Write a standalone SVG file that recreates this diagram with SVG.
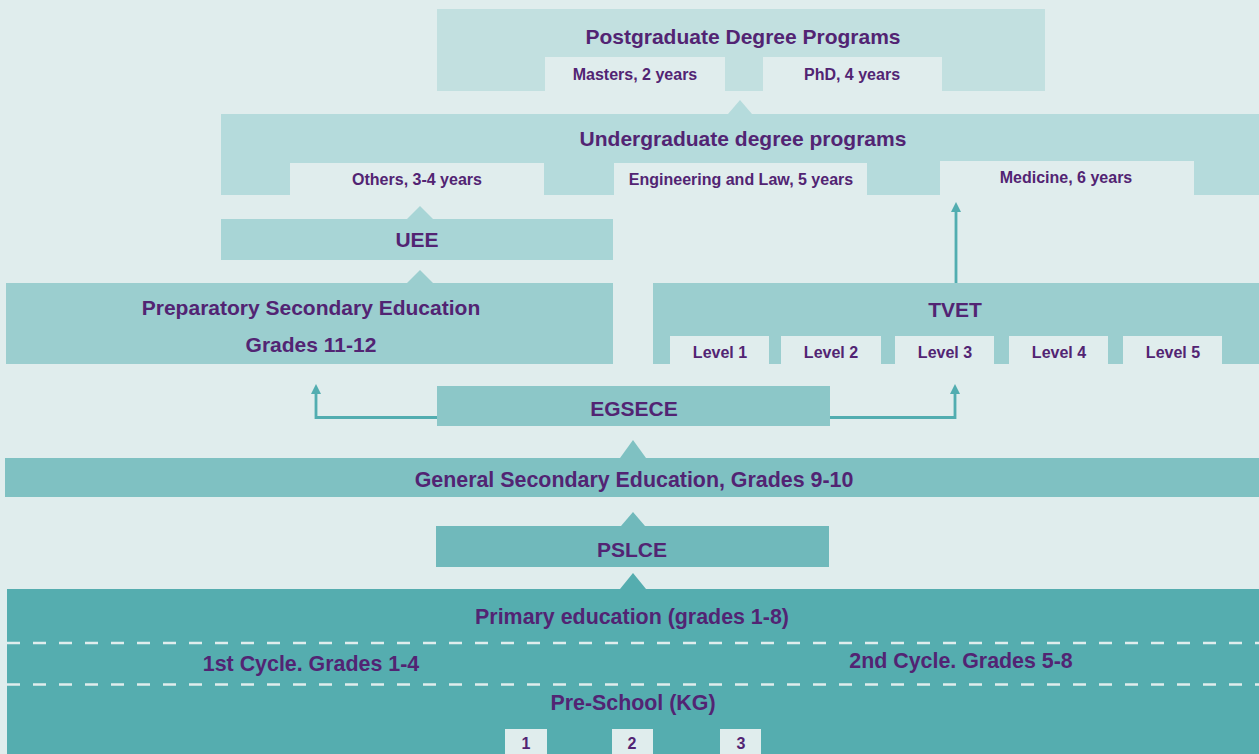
<svg xmlns="http://www.w3.org/2000/svg" width="1259" height="754" viewBox="0 0 1259 754">
<style>
text{font-family:"Liberation Sans",Arial,sans-serif;font-weight:bold;fill:#522473;text-anchor:middle}
.t20{font-size:21px}
.t19{font-size:21.4px}
.t14{font-size:16px}
.sub{fill:#e0eded}
.conn{fill:none;stroke:#52adb0;stroke-width:2.8}
.dash{stroke:#e0eded;stroke-width:2.5;stroke-dasharray:13 13}
</style>
<defs>
<marker id="ah" viewBox="0 0 10 10" refX="5" refY="5" markerWidth="3.6" markerHeight="3.6" orient="auto">
<path d="M0,0 L10,5 L0,10 z" fill="#52adb0"/>
</marker>
</defs>
<rect width="1259" height="754" fill="#e0eded"/>

<g id="postgraduate">
<rect x="437" y="9" width="608" height="82" fill="#c2e0e0"/>
<text class="t20" x="743" y="44">Postgraduate Degree Programs</text>
<rect class="sub" x="545" y="57" width="180" height="34"/>
<text class="t14" x="635" y="80">Masters, 2 years</text>
<rect class="sub" x="763" y="57" width="179" height="34"/>
<text class="t14" x="852" y="80">PhD, 4 years</text>
</g>

<g id="undergraduate">
<polygon points="728,114 740,100 752,114" fill="#b5dbdc"/>
<rect x="221" y="114" width="1038" height="81" fill="#b5dbdc"/>
<text class="t20" x="743" y="146">Undergraduate degree programs</text>
<rect class="sub" x="290" y="163" width="254" height="32"/>
<text class="t14" x="417" y="185">Others, 3-4 years</text>
<rect class="sub" x="614" y="163" width="253" height="32"/>
<text class="t14" x="741" y="185">Engineering and Law, 5 years</text>
<rect class="sub" x="940" y="161" width="254" height="34"/>
<text class="t14" x="1066" y="183">Medicine, 6 years</text>
</g>

<g id="uee">
<polygon points="407,219 420,206 433,219" fill="#a8d5d6"/>
<rect x="221" y="219" width="392" height="41" fill="#a8d5d6"/>
<text class="t20" x="417" y="247">UEE</text>
</g>

<g id="preparatory">
<polygon points="407,283 420,270 433,283" fill="#9bcecf"/>
<rect x="6" y="283" width="607" height="81" fill="#9bcecf"/>
<text class="t20" x="311" y="315">Preparatory Secondary Education</text>
<text class="t20" x="311" y="352">Grades 11-12</text>
</g>

<g id="tvet">
<rect x="653" y="283" width="606" height="81" fill="#9bcecf"/>
<text class="t20" x="955" y="317">TVET</text>
<rect class="sub" x="670" y="336" width="99" height="28"/>
<text class="t14" x="720" y="358">Level 1</text>
<rect class="sub" x="781" y="336" width="100" height="28"/>
<text class="t14" x="831" y="358">Level 2</text>
<rect class="sub" x="895" y="336" width="99" height="28"/>
<text class="t14" x="945" y="358">Level 3</text>
<rect class="sub" x="1009" y="336" width="99" height="28"/>
<text class="t14" x="1059" y="358">Level 4</text>
<rect class="sub" x="1123" y="336" width="99" height="28"/>
<text class="t14" x="1173" y="358">Level 5</text>
</g>

<g id="egsece">
<rect x="437" y="386" width="393" height="40" fill="#8cc7c8"/>
<text class="t20" x="634" y="416">EGSECE</text>
</g>

<g id="general-secondary">
<polygon points="620,458 633,440 646,458" fill="#7fc1c2"/>
<rect x="5" y="458" width="1254" height="39" fill="#7fc1c2"/>
<text class="t19" x="634" y="487">General Secondary Education, Grades 9-10</text>
</g>

<g id="pslce">
<polygon points="621,526 633,512 645,526" fill="#70b9bb"/>
<rect x="436" y="526" width="393" height="41" fill="#70b9bb"/>
<text class="t20" x="632" y="557">PSLCE</text>
</g>

<g id="primary">
<polygon points="620,589 633,573 646,589" fill="#55adaf"/>
<rect x="7" y="589" width="1252" height="165" fill="#55adaf"/>
<text class="t19" x="632" y="624">Primary education (grades 1-8)</text>
<line class="dash" x1="7" y1="643" x2="1259" y2="643"/>
<text class="t19" x="311" y="671">1st Cycle. Grades 1-4</text>
<text class="t19" x="961" y="668">2nd Cycle. Grades 5-8</text>
<line class="dash" x1="7" y1="684.5" x2="1259" y2="684.5"/>
<text class="t19" x="633" y="710">Pre-School (KG)</text>
<rect class="sub" x="505" y="729" width="42" height="25"/>
<text class="t14" x="526" y="749">1</text>
<rect class="sub" x="612" y="729" width="41" height="25"/>
<text class="t14" x="632" y="749">2</text>
<rect class="sub" x="720" y="729" width="41" height="25"/>
<text class="t14" x="741" y="749">3</text>
</g>

<g id="connectors">
<path class="conn" d="M956,283 V207" marker-end="url(#ah)"/>
<path class="conn" d="M437,417.5 H316 V389" marker-end="url(#ah)"/>
<path class="conn" d="M830,417.5 H955 V389" marker-end="url(#ah)"/>
</g>
</svg>
